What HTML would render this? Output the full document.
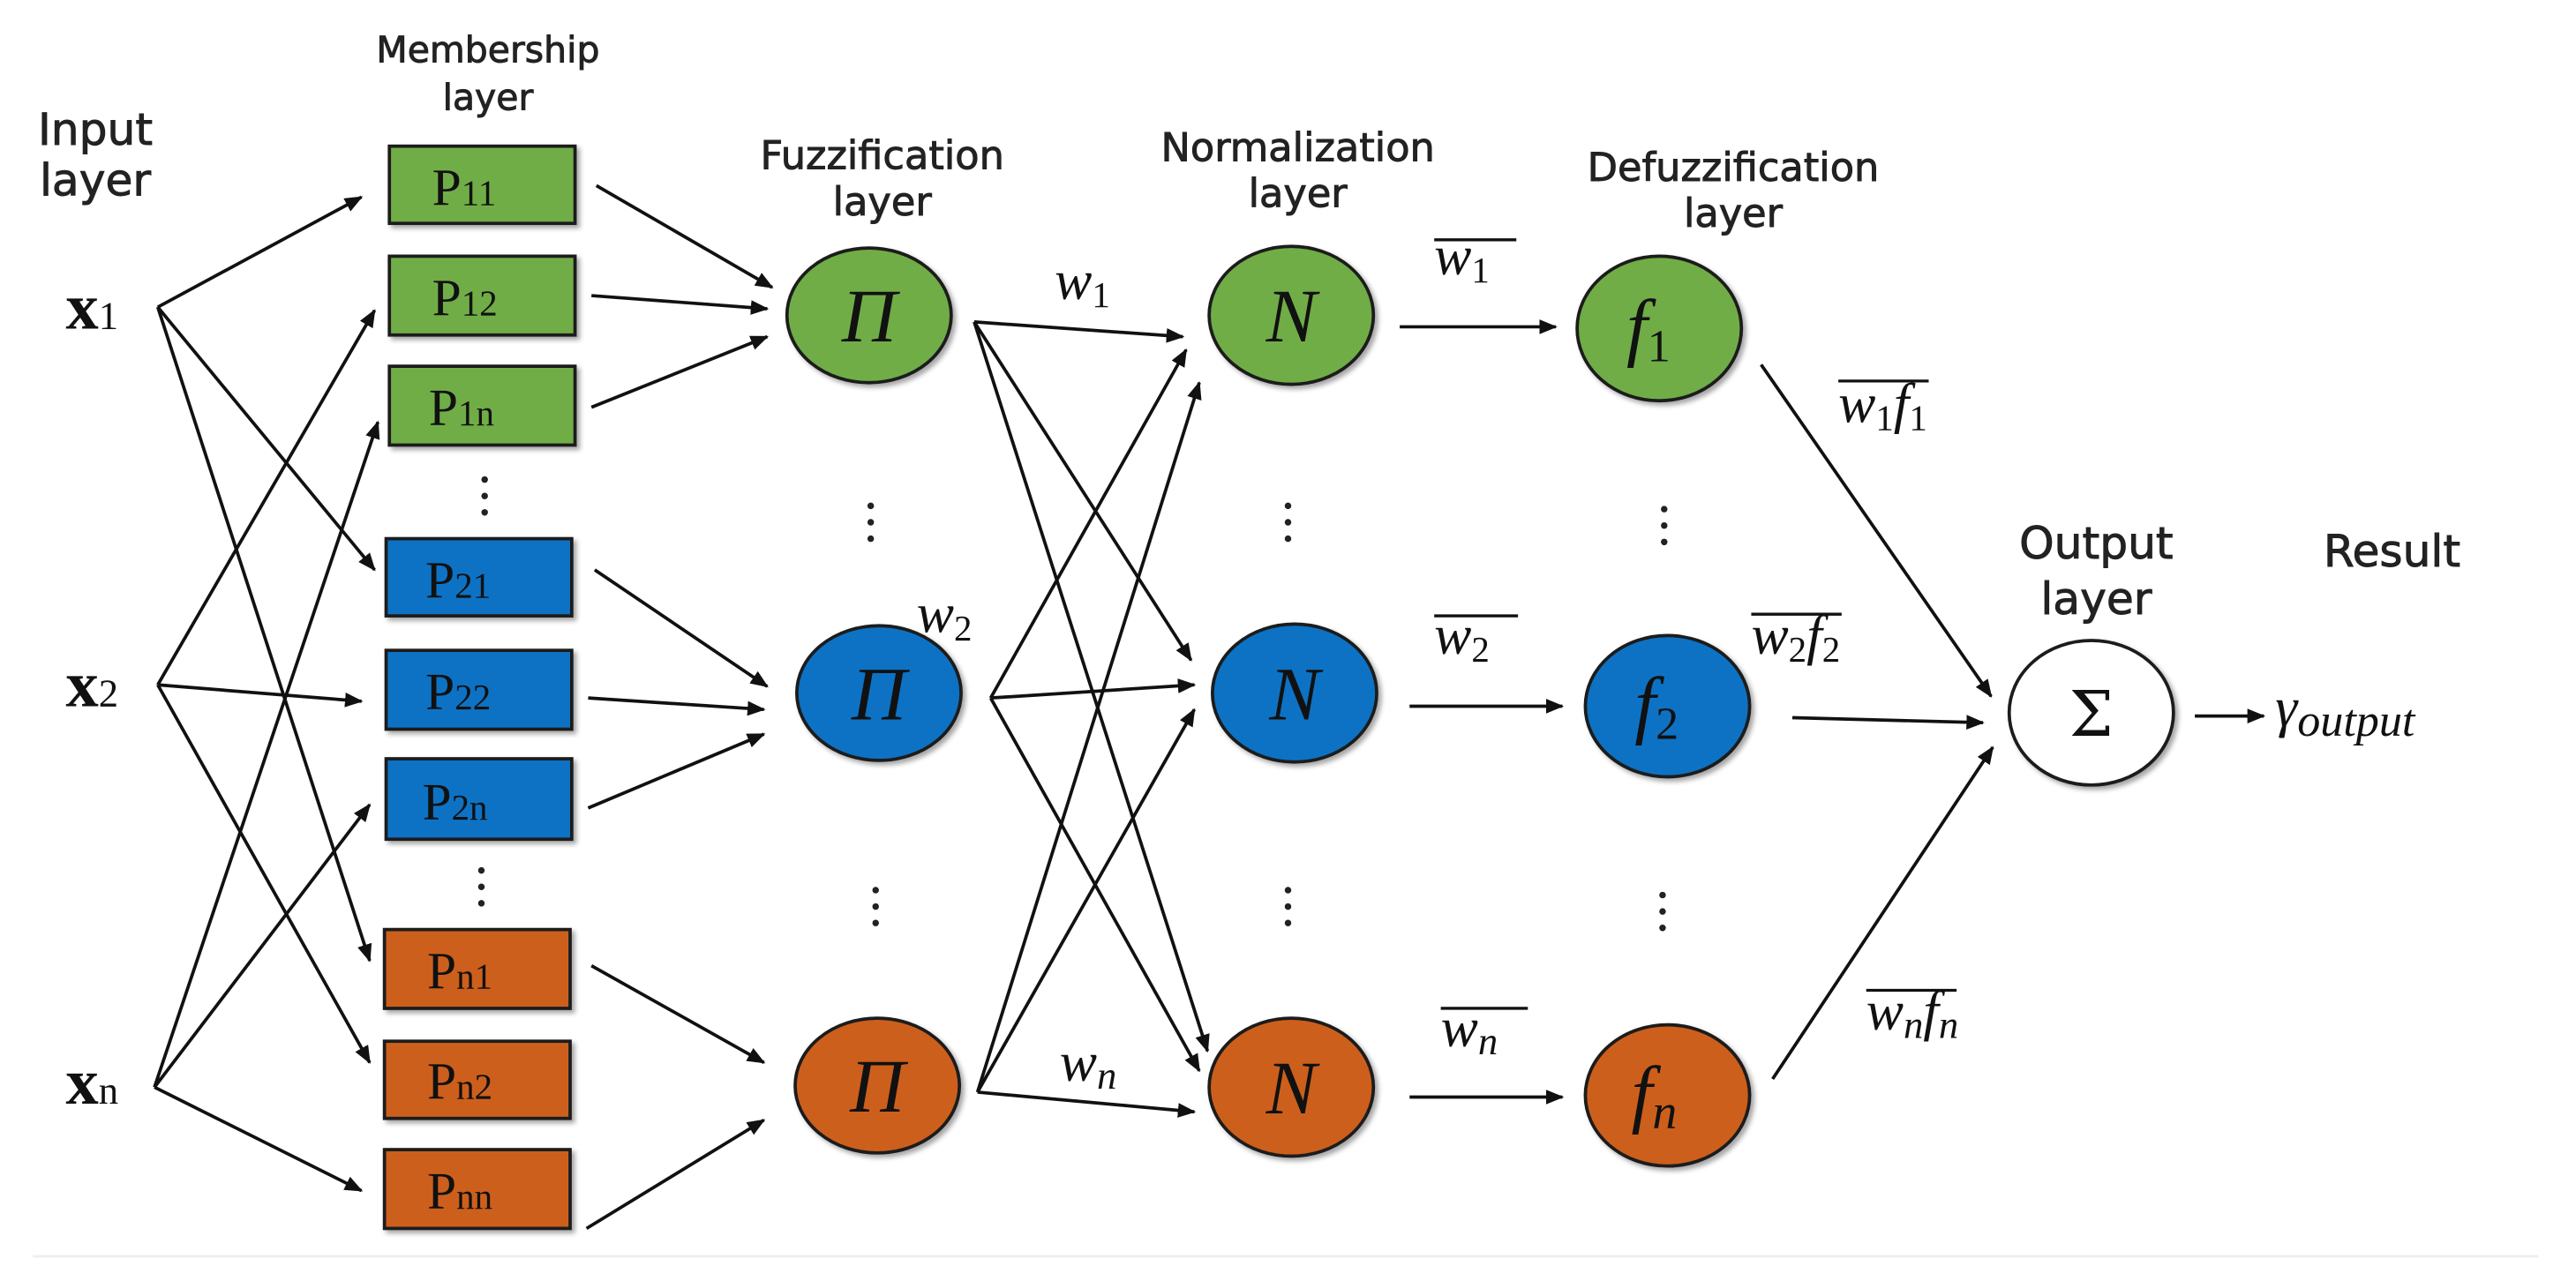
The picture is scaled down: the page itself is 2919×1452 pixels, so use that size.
<!DOCTYPE html>
<html><head><meta charset="utf-8"><style>
html,body{margin:0;padding:0;background:#fff;}
svg{display:block;}
.lbl{font-family:"DejaVu Sans","Liberation Sans",sans-serif;font-size:24px;fill:#222;stroke:#222;stroke-width:0.5;text-anchor:middle;}
.p{font-family:"Liberation Serif",serif;font-size:32px;fill:#111;}
.ps{font-size:22px;}
.m{font-family:"Liberation Serif",serif;font-style:italic;fill:#111;}
</style></head><body>
<svg width="2919" height="1452" viewBox="0 0 1568 780" xmlns="http://www.w3.org/2000/svg">
<defs>
<marker id="a" markerWidth="11" markerHeight="9" refX="10" refY="4.5" orient="auto" markerUnits="userSpaceOnUse">
<path d="M0,0 L11,4.5 L0,9 Z" fill="#111"/></marker>
<filter id="sh" x="-20%" y="-20%" width="150%" height="150%"><feDropShadow dx="2" dy="2" stdDeviation="1.5" flood-color="#000" flood-opacity="0.35"/></filter>
</defs>
<rect width="1568" height="780" fill="#fff"/>
<line x1="20" y1="765" x2="1545" y2="765" stroke="#eee" stroke-width="1.5"/>

<!-- labels -->
<text class="lbl" x="58" y="88" style="font-size:27px">Input</text><text class="lbl" x="58" y="119" style="font-size:27px">layer</text>
<text class="lbl" x="297" y="38" style="font-size:22px">Membership</text><text class="lbl" x="297" y="67" style="font-size:22px">layer</text>
<text class="lbl" x="537" y="103">Fuzzification</text><text class="lbl" x="537" y="131">layer</text>
<text class="lbl" x="790" y="98">Normalization</text><text class="lbl" x="790" y="126">layer</text>
<text class="lbl" x="1055" y="110">Defuzzification</text><text class="lbl" x="1055" y="138">layer</text>
<text class="lbl" x="1276" y="340" style="font-size:27px">Output</text><text class="lbl" x="1276" y="374" style="font-size:27px">layer</text>
<text class="lbl" x="1456" y="345" style="font-size:27px">Result</text>

<!-- inputs -->
<text class="p" x="40" y="200" style="font-size:40px;font-weight:bold">x<tspan style="font-size:24px;font-weight:normal">1</tspan></text>
<text class="p" x="40" y="430" style="font-size:40px;font-weight:bold">x<tspan style="font-size:24px;font-weight:normal">2</tspan></text>
<text class="p" x="40" y="672" style="font-size:40px;font-weight:bold">x<tspan style="font-size:24px;font-weight:normal">n</tspan></text>

<g stroke="#111" stroke-width="2" fill="none" marker-end="url(#a)">
<line x1="96" y1="187" x2="220" y2="120"/>
<line x1="96" y1="187" x2="228" y2="347"/>
<line x1="96" y1="187" x2="225" y2="585"/>
<line x1="96" y1="417" x2="228" y2="189"/>
<line x1="96" y1="417" x2="220" y2="427"/>
<line x1="96" y1="417" x2="225" y2="647"/>
<line x1="94" y1="662" x2="230" y2="257"/>
<line x1="94" y1="662" x2="225" y2="490"/>
<line x1="94" y1="662" x2="220" y2="725"/>

<line x1="363" y1="113" x2="470" y2="175"/>
<line x1="360" y1="180" x2="467" y2="188"/>
<line x1="360" y1="248" x2="467" y2="205"/>
<line x1="362" y1="347" x2="467" y2="418"/>
<line x1="358" y1="425" x2="465" y2="432"/>
<line x1="358" y1="492" x2="465" y2="447"/>
<line x1="360" y1="588" x2="465" y2="647"/>
<line x1="357" y1="748" x2="465" y2="682"/>

<line x1="593" y1="196" x2="720" y2="205"/>
<line x1="593" y1="196" x2="725" y2="402"/>
<line x1="593" y1="196" x2="735" y2="640"/>
<line x1="603" y1="425" x2="722" y2="213"/>
<line x1="603" y1="425" x2="727" y2="417"/>
<line x1="603" y1="425" x2="730" y2="652"/>
<line x1="595" y1="665" x2="730" y2="233"/>
<line x1="595" y1="665" x2="727" y2="432"/>
<line x1="595" y1="665" x2="727" y2="677"/>

<line x1="852" y1="199" x2="947" y2="199"/>
<line x1="858" y1="430" x2="951" y2="430"/>
<line x1="858" y1="668" x2="951" y2="668"/>

<line x1="1072" y1="222" x2="1212" y2="424"/>
<line x1="1091" y1="437" x2="1207" y2="440"/>
<line x1="1079" y1="657" x2="1213" y2="455"/>
<line x1="1336" y1="436" x2="1378" y2="436"/>
</g>

<!-- boxes -->
<g filter="url(#sh)" stroke="#1a1a1a" stroke-width="2">
<rect x="237" y="89" width="113" height="47" fill="#70ad47"/>
<rect x="237" y="156" width="113" height="48" fill="#70ad47"/>
<rect x="237" y="223" width="113" height="48" fill="#70ad47"/>
<rect x="235" y="328" width="113" height="47" fill="#0f72c4"/>
<rect x="235" y="396" width="113" height="48" fill="#0f72c4"/>
<rect x="235" y="462" width="113" height="49" fill="#0f72c4"/>
<rect x="234" y="566" width="113" height="48" fill="#cd5f1c"/>
<rect x="234" y="634" width="113" height="47" fill="#cd5f1c"/>
<rect x="234" y="700" width="113" height="48" fill="#cd5f1c"/>
</g>
<text class="p" x="263" y="125">P<tspan class="ps">11</tspan></text>
<text class="p" x="263" y="192">P<tspan class="ps">12</tspan></text>
<text class="p" x="261" y="259">P<tspan class="ps">1n</tspan></text>
<text class="p" x="259" y="364">P<tspan class="ps">21</tspan></text>
<text class="p" x="259" y="432">P<tspan class="ps">22</tspan></text>
<text class="p" x="257" y="499">P<tspan class="ps">2n</tspan></text>
<text class="p" x="260" y="602">P<tspan class="ps">n1</tspan></text>
<text class="p" x="260" y="669">P<tspan class="ps">n2</tspan></text>
<text class="p" x="260" y="736">P<tspan class="ps">nn</tspan></text>

<!-- dots -->
<g fill="#222">
<circle cx="295" cy="292" r="2"/><circle cx="295" cy="302" r="2"/><circle cx="295" cy="312" r="2"/>
<circle cx="293" cy="530" r="2"/><circle cx="293" cy="540" r="2"/><circle cx="293" cy="550" r="2"/>
<circle cx="530" cy="308" r="2"/><circle cx="530" cy="318" r="2"/><circle cx="530" cy="328" r="2"/>
<circle cx="533" cy="542" r="2"/><circle cx="533" cy="552" r="2"/><circle cx="533" cy="562" r="2"/>
<circle cx="784" cy="308" r="2"/><circle cx="784" cy="318" r="2"/><circle cx="784" cy="328" r="2"/>
<circle cx="784" cy="542" r="2"/><circle cx="784" cy="552" r="2"/><circle cx="784" cy="562" r="2"/>
<circle cx="1013" cy="310" r="2"/><circle cx="1013" cy="320" r="2"/><circle cx="1013" cy="330" r="2"/>
<circle cx="1012" cy="545" r="2"/><circle cx="1012" cy="555" r="2"/><circle cx="1012" cy="565" r="2"/>
</g>

<!-- circles -->
<g filter="url(#sh)" stroke="#1a1a1a" stroke-width="2">
<ellipse cx="529" cy="192" rx="50" ry="41" fill="#70ad47"/>
<ellipse cx="535" cy="422" rx="50" ry="41" fill="#0f72c4"/>
<ellipse cx="534" cy="661" rx="50" ry="41" fill="#cd5f1c"/>
<ellipse cx="786" cy="192" rx="50" ry="42" fill="#70ad47"/>
<ellipse cx="788" cy="422" rx="50" ry="42" fill="#0f72c4"/>
<ellipse cx="786" cy="662" rx="50" ry="42" fill="#cd5f1c"/>
<ellipse cx="1010" cy="200" rx="50" ry="44" fill="#70ad47"/>
<ellipse cx="1015" cy="430" rx="50" ry="43" fill="#0f72c4"/>
<ellipse cx="1015" cy="667" rx="50" ry="43" fill="#cd5f1c"/>
<ellipse cx="1273" cy="434" rx="50" ry="44" fill="#fff"/>
</g>
<g class="m" style="font-size:46px" text-anchor="middle">
<text x="529" y="208">Π</text><text x="535" y="438">Π</text><text x="534" y="677">Π</text>
<text x="786" y="208">N</text><text x="788" y="438">N</text><text x="786" y="678">N</text>
</g>
<text class="m" x="990" y="214" style="font-size:46px">f<tspan style="font-size:28px;font-style:normal" dy="6">1</tspan></text>
<text class="m" x="995" y="444" style="font-size:46px">f<tspan style="font-size:28px;font-style:normal" dy="6">2</tspan></text>
<text class="m" x="993" y="681" style="font-size:46px">f<tspan style="font-size:30px" dy="6">n</tspan></text>
<text x="1273" y="448" text-anchor="middle" style="font-family:'DejaVu Serif',serif;font-size:38px;fill:#111">Σ</text>
<text class="m" x="1385" y="442" style="font-size:34px">γ<tspan style="font-size:28px" dy="6">output</tspan></text>

<!-- weights -->
<text class="m" x="642" y="182" style="font-size:34px">w<tspan style="font-size:22px;font-style:normal" dy="5">1</tspan></text>
<text class="m" x="558" y="385" style="font-size:34px">w<tspan style="font-size:22px;font-style:normal" dy="5">2</tspan></text>
<text class="m" x="645" y="658" style="font-size:34px">w<tspan style="font-size:24px" dy="5">n</tspan></text>

<g stroke="#111" stroke-width="1.8">
<line x1="873" y1="146" x2="923" y2="146"/>
<line x1="873" y1="375" x2="924" y2="375"/>
<line x1="877" y1="614" x2="930" y2="614"/>
<line x1="1119" y1="232" x2="1174" y2="232"/>
<line x1="1066" y1="374" x2="1121" y2="374"/>
<line x1="1136" y1="603" x2="1191" y2="603"/>
</g>
<text class="m" x="873" y="167" style="font-size:34px">w<tspan style="font-size:22px;font-style:normal" dy="5">1</tspan></text>
<text class="m" x="873" y="398" style="font-size:34px">w<tspan style="font-size:22px;font-style:normal" dy="5">2</tspan></text>
<text class="m" x="877" y="637" style="font-size:34px">w<tspan style="font-size:24px" dy="5">n</tspan></text>
<text class="m" x="1119" y="257" style="font-size:34px">w<tspan style="font-size:22px;font-style:normal" dy="5">1</tspan><tspan dy="-5">f</tspan><tspan style="font-size:22px;font-style:normal" dy="5">1</tspan></text>
<text class="m" x="1066" y="398" style="font-size:34px">w<tspan style="font-size:22px;font-style:normal" dy="5">2</tspan><tspan dy="-5">f</tspan><tspan style="font-size:22px;font-style:normal" dy="5">2</tspan></text>
<text class="m" x="1136" y="627" style="font-size:34px">w<tspan style="font-size:24px" dy="5">n</tspan><tspan dy="-5">f</tspan><tspan style="font-size:24px" dy="5">n</tspan></text>
</svg>
</body></html>
